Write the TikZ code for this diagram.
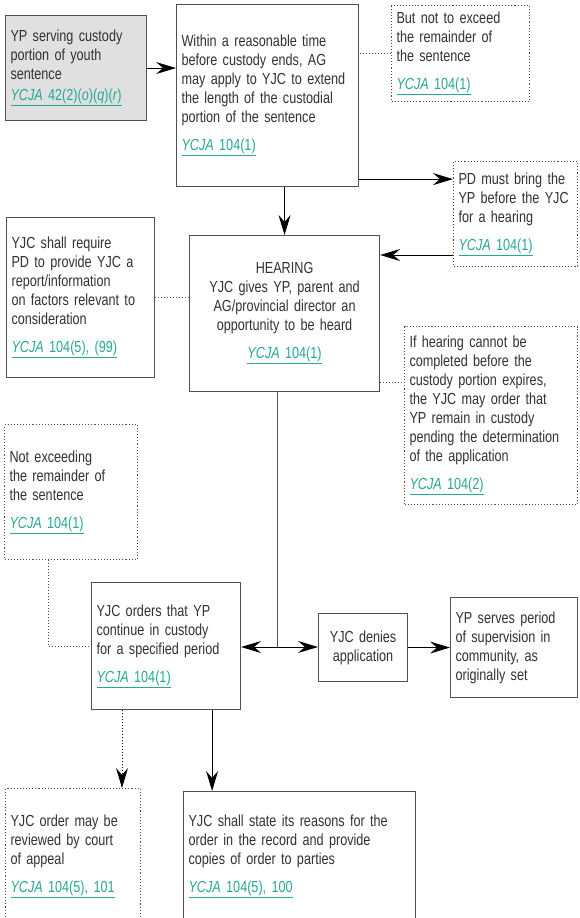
\documentclass[tikz,border=0pt]{standalone}
\usepackage{fontspec}
\setmainfont[FakeStretch=0.79]{Liberation Sans}
\usetikzlibrary{arrows.meta}
\definecolor{ycjateal}{RGB}{38,168,150}
\definecolor{boxgray}{RGB}{80,80,80}
\definecolor{txtgray}{RGB}{50,50,50}
\definecolor{startfill}{RGB}{224,224,224}
\newcommand{\ycja}[1]{{\color{ycjateal}\underline{\textit{YCJA} #1}}}
\hyphenpenalty=10000

\begin{document}
\begin{tikzpicture}[x=1pt,y=-1pt,
  box/.style={draw=boxgray,line width=1.1pt,rectangle,inner xsep=5pt,inner ysep=3pt,
    align=left,text=txtgray,font=\fontsize{16}{19}\selectfont,anchor=north west},
  note/.style={box,dotted,line width=1pt},
  arr/.style={-{Stealth[length=20pt,width=12pt,inset=7pt]},line width=1pt},
  dotline/.style={dotted,line width=1pt,draw=boxgray},
  dotarr/.style={arr,dotted}]
\path[use as bounding box,fill=white] (0,0) rectangle (580,918);
\node[box,fill=startfill,text width=131pt,minimum height=105pt] (start) at (5,15)
  {YP serving custody\\portion of youth\\sentence\\[2pt]\ycja{42(2)(\textit{o})(\textit{q})(\textit{r})}};
\node[box,text width=172pt,minimum height=182pt] (within) at (176,4)
  {Within a reasonable time\\before custody ends, AG\\may apply to YJC to extend\\the length of the custodial\\portion of the sentence\\[9pt]\ycja{104(1)}};
\node[note,text width=128pt,minimum height=96pt] (butnot) at (391,5)
  {But not to exceed\\the remainder of\\the sentence\\[9pt]\ycja{104(1)}};
\node[note,text width=114pt,minimum height=105pt] (pd) at (453,161)
  {PD must bring the\\YP before the YJC\\for a hearing\\[9pt]\ycja{104(1)}};
\node[box,text width=138pt,minimum height=160pt] (require) at (6,217)
  {YJC shall require\\PD to provide YJC a\\report/information\\on factors relevant to\\consideration\\[9pt]\ycja{104(5), (99)}};
\node[box,align=center,text width=180pt,minimum height=156pt] (hearing) at (189,235)
  {HEARING\\YJC gives YP, parent and\\AG/provincial director an\\opportunity to be heard\\[9pt]\ycja{104(1)}};
\node[note,text width=163pt,minimum height=178pt] (ifhear) at (404,326)
  {If hearing cannot be\\completed before the\\custody portion expires,\\the YJC may order that\\YP remain in custody\\pending the determination\\of the application\\[9pt]\ycja{104(2)}};
\node[note,text width=123pt,minimum height=135pt] (notex) at (4,424)
  {Not exceeding\\the remainder of\\the sentence\\[9pt]\ycja{104(1)}};
\node[box,text width=139pt,minimum height=127pt] (orders) at (91,582)
  {YJC orders that YP\\continue in custody\\for a specified period\\[9pt]\ycja{104(1)}};
\node[box,align=center,text width=79pt,minimum height=68pt] (denies) at (318,613)
  {YJC denies\\application};
\node[box,text width=117pt,minimum height=100pt] (serves) at (450,597)
  {YP serves period\\of supervision in\\community, as\\originally set};
\node[note,text width=125pt,minimum height=136pt] (review) at (5,788)
  {YJC order may be\\reviewed by court\\of appeal\\[9pt]\ycja{104(5), 101}};
\node[box,text width=222pt,minimum height=130pt] (state) at (183,791)
  {YJC shall state its reasons for the\\order in the record and provide\\copies of order to parties\\[9pt]\ycja{104(5), 100}};
\coordinate (pdin) at ([yshift=8pt]within.south east);
\coordinate (pdout) at ([yshift=12pt]pd.south west);
\coordinate (hout) at ([yshift=10pt]hearing.south east);
\coordinate (jn) at (277,647);
\coordinate (rv) at ([xshift=31pt]orders.south west);
\coordinate (st) at ([xshift=-29pt]orders.south east);
\draw[arr] (start.east) -- (start.east -| within.west);
\draw[dotline] (butnot.west) -- (butnot.west -| within.east);
\draw[arr] (pdin) -- (pdin -| pd.west);
\draw[arr] (hearing.north |- within.south) -- (hearing.north);
\draw[arr] (pdout) -- (pdout -| hearing.east);
\draw[dotline] (require.east) -- (require.east -| hearing.west);
\draw[dotline] (hout) -- (hout -| ifhear.west);
\draw[line width=1pt,draw=boxgray] (jn |- hearing.south) -- (jn);
\draw[arr] (jn) -- (jn -| orders.east);
\draw[arr] (jn) -- (jn -| denies.west);
\draw[arr] (denies) -- (serves);
\draw[dotline] ([xshift=-23pt]notex.south) |- (orders.west);
\draw[dotarr] (rv) -- (rv |- review.north);
\draw[arr] (st) -- (st |- state.north);
\end{tikzpicture}
\end{document}
